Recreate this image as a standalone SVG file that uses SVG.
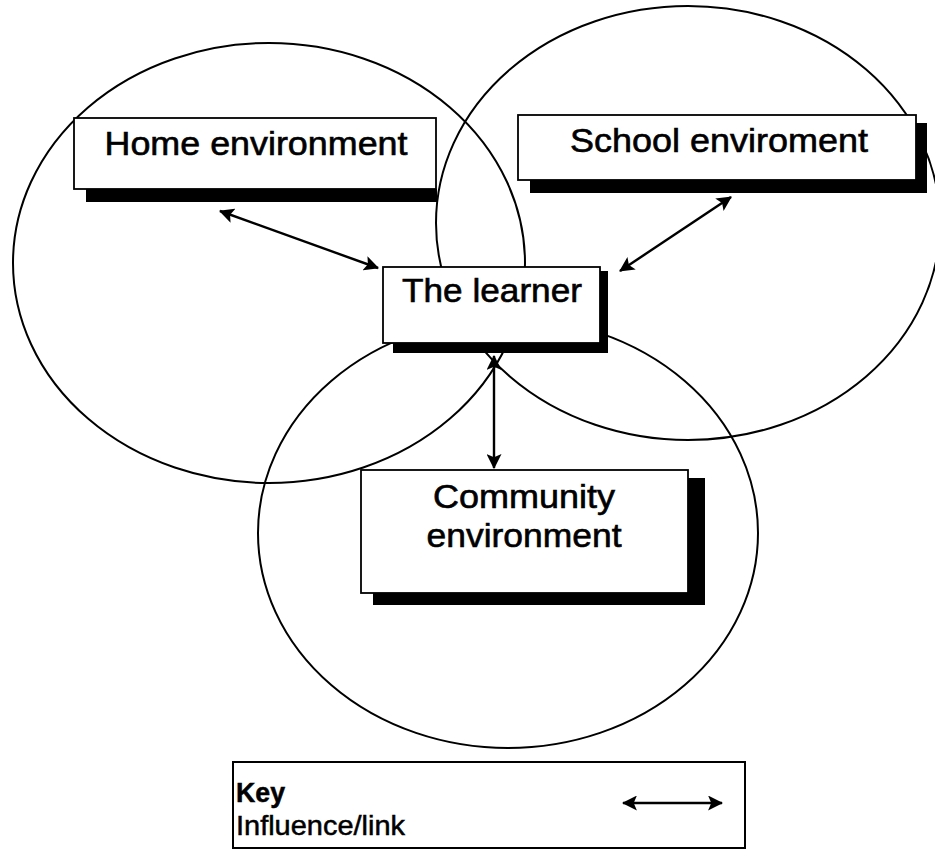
<svg xmlns="http://www.w3.org/2000/svg" width="935" height="850" viewBox="0 0 935 850">
<style>
.ring{fill:none;stroke:#000;stroke-width:2}
.box{fill:#fff;stroke:#000;stroke-width:1.8}
.sh{fill:#000}
.t{font-family:"Liberation Sans",Arial,sans-serif;font-size:33px;fill:#000;stroke:#000;stroke-width:0.6;text-anchor:middle}
.k{font-family:"Liberation Sans",Arial,sans-serif;font-size:27px;fill:#000;stroke:#000;stroke-width:0.5}
.c{stroke:#000;stroke-width:2.4;fill:none;marker-start:url(#ah);marker-end:url(#ah)}
</style>
<defs>
<marker id="ah" viewBox="0 0 14 14" refX="13" refY="7" markerWidth="15" markerHeight="15" markerUnits="userSpaceOnUse" orient="auto-start-reverse">
<path d="M0,0 L14,7 L0,14 L3,7 Z" fill="#000"/>
</marker>
</defs>
<rect width="935" height="850" fill="#fff"/>
<g id="circles">
<ellipse class="ring" cx="269" cy="263" rx="256" ry="220"/>
<ellipse class="ring" cx="688" cy="223" rx="252" ry="217"/>
<ellipse class="ring" cx="508" cy="533" rx="250" ry="215"/>
</g>
<g id="connectors">
<line class="c" x1="220" y1="211" x2="378" y2="268"/>
<line class="c" x1="731" y1="197" x2="620" y2="271"/>
<line class="c" x1="494" y1="356" x2="494" y2="468"/>
</g>
<g id="home">
<rect class="sh" x="86" y="189" width="351" height="13"/>
<rect class="box" x="74" y="118" width="362" height="71"/>
<text class="t" x="256" y="155" textLength="303" lengthAdjust="spacingAndGlyphs">Home environment</text>
</g>
<g id="school">
<rect class="sh" x="530" y="123" width="397" height="70"/>
<rect class="box" x="518" y="115" width="398" height="65"/>
<text class="t" x="719" y="152" textLength="298" lengthAdjust="spacingAndGlyphs">School enviroment</text>
</g>
<g id="learner">
<rect class="sh" x="393" y="271" width="215" height="82"/>
<rect class="box" x="383" y="267" width="217" height="76"/>
<text class="t" x="492" y="302" textLength="180" lengthAdjust="spacingAndGlyphs">The learner</text>
</g>
<g id="community">
<rect class="sh" x="373" y="478" width="332" height="127"/>
<rect class="box" x="361" y="470" width="327" height="123"/>
<text class="t" x="524" y="508" textLength="182" lengthAdjust="spacingAndGlyphs">Community</text>
<text class="t" x="524" y="547" textLength="195" lengthAdjust="spacingAndGlyphs">environment</text>
</g>
<g id="key">
<rect x="233" y="762" width="512" height="86" fill="#fff" stroke="#000" stroke-width="2"/>
<text class="k" x="236" y="802" font-weight="bold" textLength="49" lengthAdjust="spacingAndGlyphs">Key</text>
<text class="k" x="236" y="835" textLength="169" lengthAdjust="spacingAndGlyphs">Influence/link</text>
<line class="c" x1="623" y1="803" x2="722" y2="803"/>
</g>
</svg>
